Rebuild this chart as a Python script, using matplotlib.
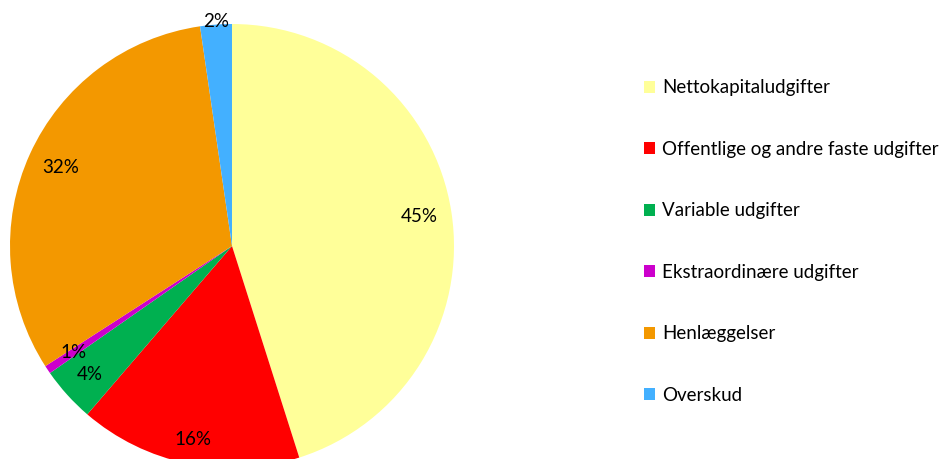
import matplotlib
matplotlib.use("Agg")
import matplotlib.pyplot as plt
import numpy as np

# budget shares (percent)
categories = ["Nettokapitaludgifter", "Offentlige og andre faste udgifter",
              "Variable udgifter", "Ekstraordinære udgifter",
              "Henlæggelser", "Overskud"]
shares = [45.1, 16.2, 4.0, 0.6, 31.8, 2.3]
colors = ["#FFFF99", "#FF0000", "#00B050", "#CC00CC", "#F39800", "#43B0FF"]
# how far out each percent label sits (fraction of radius)
label_r = [0.855, 0.89, 0.865, 0.862, 0.85, 1.016]

plt.rcParams["font.family"] = ["Lato", "DejaVu Sans"]

fig = plt.figure(figsize=(9.4, 4.59), dpi=100)
# pie is a bit taller than the figure, bottom gets cut like in the original
ax = fig.add_axes([10/940, -9/459, 444/940, 444/459])

wedges, texts, autotexts = ax.pie(shares, colors=colors, startangle=90,
                                  counterclock=False, autopct="%.0f%%",
                                  radius=1.0,
                                  textprops={"fontsize": 13.5, "color": "black"},
                                  wedgeprops={"linewidth": 0})
for w, t, r in zip(wedges, autotexts, label_r):
    ang = np.deg2rad((w.theta1 + w.theta2) / 2)
    t.set_position((r * np.cos(ang), r * np.sin(ang)))
ax.set_xlim(-1, 1)
ax.set_ylim(-1, 1)
ax.set_aspect("equal")

fig.legend(wedges, categories, loc="center left",
           bbox_to_anchor=(644/940, 1 - 241.5/459), frameon=False,
           fontsize=13.5, handlelength=0.6, handleheight=0.6,
           handletextpad=0.38, labelspacing=2.37, borderpad=0,
           borderaxespad=0)

fig.savefig("out.png", dpi=100)
